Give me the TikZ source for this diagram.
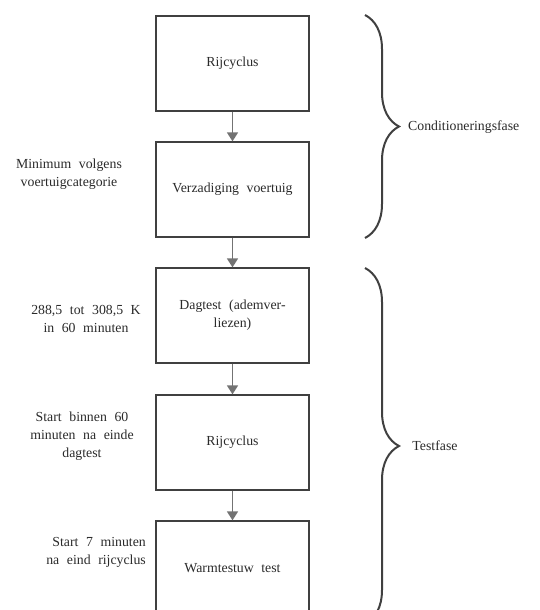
\documentclass[tikz,border=0pt]{standalone}
\usepackage{fontspec}
\setmainfont{Liberation Serif}
\usetikzlibrary{arrows.meta,decorations.pathreplacing}
\definecolor{ink}{HTML}{2A2A2A}
\definecolor{frame}{HTML}{404040}
\definecolor{flow}{HTML}{737373}
% body text with the wide word spacing of the chart
\newcommand{\chartfont}{\fontsize{13.8}{18}\selectfont\spaceskip=0.55em plus 0.1em\relax}
\tikzset{
  txt/.style={font=\chartfont, text=ink, inner sep=0pt},
  stepbox/.style={txt, draw=frame, line width=1.3pt, minimum width=153pt, minimum height=95pt, align=center},
  note/.style={txt, align=center},
  flowarrow/.style={draw=flow, line width=1.6pt, -{Triangle[length=9pt,width=11pt]}},
  phasebrace/.style={draw=frame, line width=2pt, decorate, decoration={brace, amplitude=34pt}},
}
\begin{document}
\begin{tikzpicture}[x=1pt,y=-1pt]
  \useasboundingbox (0,0) rectangle (540,610);
  \clip (0,0) rectangle (540,610);

  % process steps
  \node[stepbox] (cycle1) at (232.5,63.5) {Rijcyclus};
  \node[stepbox] (soak)   at (232.5,189.5) {Verzadiging voertuig};
  \node[stepbox] (diurnal) at (232.5,315.5) {Dagtest (ademver-\\liezen)};
  \node[stepbox] (cycle2) at (232.5,442.5) {Rijcyclus};
  \node[stepbox] (hot)    at (232.5,568.5) {Warmtestuw test};

  % flow between steps
  \draw[flowarrow] (cycle1.south) -- (soak.north);
  \draw[flowarrow] (soak.south) -- (diurnal.north);
  \draw[flowarrow] (diurnal.south) -- (cycle2.north);
  \draw[flowarrow] (cycle2.south) -- (hot.north);

  % conditions beside the steps
  \node[note] (n1) at (69,174) {Minimum volgens\\voertuigcategorie};
  \node[note] (n2) at (86,319) {288,5 tot 308,5 K\\in 60 minuten};
  \node[note] (n3) at (82,436) {Start binnen 60\\minuten na einde\\dagtest};
  \node[txt, align=right, anchor=east] (n4) at (146,552) {Start 7 minuten\\na eind rijcyclus};

  % phase braces
  \coordinate (b1top) at (365,15);
  \coordinate (b1bot) at (365,238);
  \coordinate (b2top) at (365,268);
  \coordinate (b2bot) at (365,624);
  \draw[phasebrace] (b1top) -- (b1bot);
  \draw[phasebrace] (b2top) -- (b2bot);

  \node[txt, anchor=west] (p1) at (408,127) {Conditioneringsfase};
  \node[txt] (p2) at (435,446) {Testfase};
\end{tikzpicture}
\end{document}
